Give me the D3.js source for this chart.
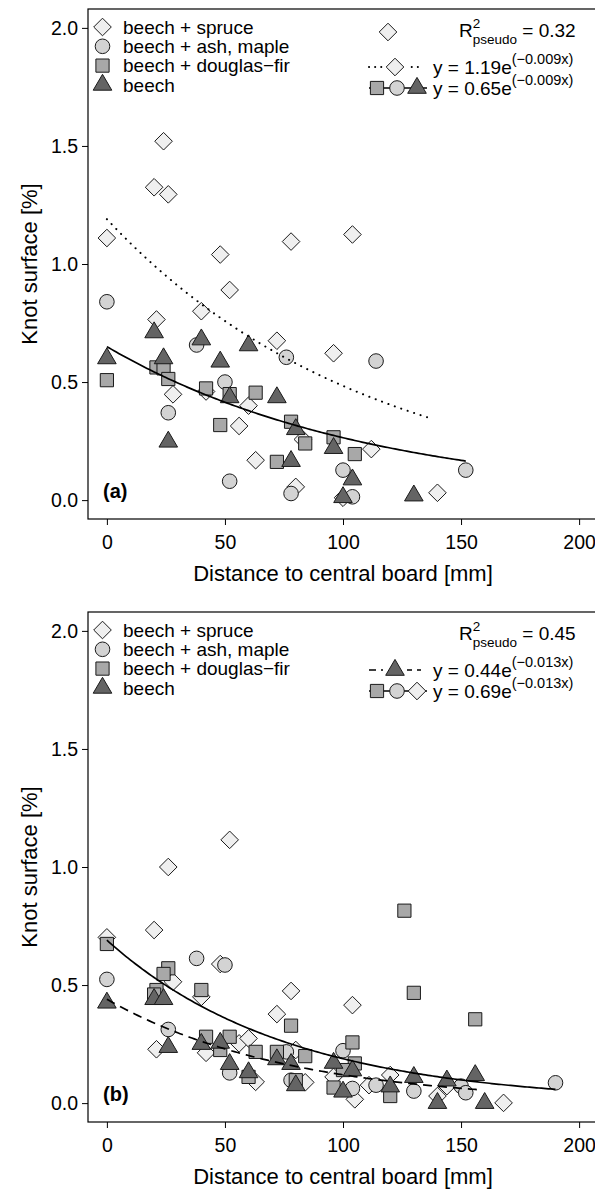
<!DOCTYPE html>
<html>
<head>
<meta charset="utf-8">
<script src="https://cdn.jsdelivr.net/npm/d3@7"></script>
<style>
  body { margin: 0; background: #fff; }
  svg text { font-family: "Liberation Sans", Arial, Helvetica, sans-serif; fill: #000; }
</style>
</head>
<body>
<svg id="chart" width="595" height="1191"></svg>
<script>
// Tick values and labels
const xTicks = [0, 50, 100, 150, 200];
const yTicks = [0, 0.5, 1, 1.5, 2];
const yTickLabels = ['0.0', '0.5', '1.0', '1.5', '2.0'];
const legendLabels = ['beech + spruce', 'beech + ash, maple', 'beech + douglas\u2212fir', 'beech'];

// Panel (a): [distance mm, knot surface %]
const spruceA = [[0,1.11],[20,1.325],[24,1.52],[26,1.295],[48,1.04],[78,1.095],[104,1.125],[52,0.89],
  [40,0.80],[21,0.765],[72,0.675],[96,0.622],[28,0.448],[42,0.46],[60,0.40],[56,0.314],[83,0.257],
  [112,0.216],[63,0.169],[80,0.056],[100,0.01],[140,0.031]];
const ashA = [[0,0.84],[38,0.657],[76,0.605],[114,0.589],[50,0.50],[26,0.37],[52,0.08],[78,0.028],
  [100,0.127],[104,0.014],[152,0.127]];
const douglasA = [[21,0.562],[24,0.558],[26,0.513],[0,0.508],[42,0.473],[52,0.449],[63,0.455],[48,0.318],
  [78,0.332],[84,0.24],[96,0.266],[105,0.195],[72,0.162]];
const beechA = [[20,0.71],[40,0.68],[60,0.655],[0,0.60],[24,0.60],[48,0.586],[52,0.435],[72,0.435],
  [80,0.30],[26,0.247],[78,0.165],[96,0.22],[104,0.087],[100,0.012],[130,0.019]];

// Panel (b)
const spruceB = [[26,1.0],[52,1.115],[20,0.733],[0,0.702],[48,0.589],[28,0.514],[40,0.45],[78,0.475],
  [72,0.377],[21,0.228],[42,0.213],[56,0.253],[60,0.274],[63,0.09],[80,0.225],[84,0.088],[96,0.111],
  [104,0.415],[105,0.016],[111,0.076],[120,0.119],[144,0.072],[140,0.03],[168,0.001]];
const ashB = [[0,0.524],[38,0.613],[50,0.585],[26,0.312],[52,0.128],[76,0.217],[78,0.097],[100,0.222],
  [104,0.062],[114,0.076],[130,0.051],[150,0.072],[152,0.044],[190,0.086]];
const douglasB = [[0,0.674],[26,0.571],[24,0.547],[40,0.479],[21,0.479],[20,0.46],[78,0.328],[42,0.281],
  [48,0.225],[52,0.281],[63,0.217],[60,0.111],[72,0.217],[84,0.199],[80,0.097],[96,0.066],[104,0.257],
  [105,0.168],[100,0.14],[120,0.03],[126,0.815],[130,0.467],[156,0.355]];
const beechB = [[0,0.425],[20,0.44],[24,0.44],[26,0.237],[40,0.25],[48,0.255],[52,0.165],[60,0.13],
  [72,0.185],[78,0.165],[80,0.075],[96,0.17],[104,0.138],[100,0.048],[120,0.07],[130,0.11],[144,0.095],
  [140,0.0],[156,0.118],[160,0.0]];

// Fitted models y = a * exp(b x) over [x0, x1]
const fitA1 = { a: 1.19, b: -0.009, x0: 0, x1: 138 };
const fitA2 = { a: 0.65, b: -0.009, x0: 0, x1: 152 };
const fitB1 = { a: 0.44, b: -0.013, x0: 0, x1: 157 };
const fitB2 = { a: 0.69, b: -0.013, x0: 0, x1: 190 };
const r2A = '0.32';
const r2B = '0.45';

const svg = d3.select('#chart');

// marker shapes (pch 21..24 look)
const styles = {
  diamond: { fill: '#efefef' },
  circle: { fill: '#d3d3d3' },
  square: { fill: '#a8a8a8' },
  triangle: { fill: '#646464' }
};
function shapePath(kind) {
  if (kind === 'diamond') { const h = 8.8; return `M0,${-h}L${h},0L0,${h}L${-h},0Z`; }
  if (kind === 'square') { const s = 6.6; return `M${-s},${-s}H${s}V${s}H${-s}Z`; }
  if (kind === 'triangle') { const w = 9.3, t = 10.6, b = 5.3; return `M0,${-t}L${w},${b}L${-w},${b}Z`; }
  return d3.symbol(d3.symbolCircle, Math.PI * 7.3 * 7.3)();
}
function marker(g, kind, x, y) {
  g.append('path')
    .attr('d', shapePath(kind))
    .attr('transform', `translate(${x},${y})`)
    .attr('fill', styles[kind].fill)
    .attr('stroke', '#1a1a1a')
    .attr('stroke-width', 1);
}

function drawPanel(p) {
  const g = svg.append('g').attr('transform', `translate(0,${p.top})`);
  const x = d3.scaleLinear().domain([-8, 208]).range([88, 598]);
  const y = d3.scaleLinear().domain([-0.08, 2.08]).range([519, 9]);

  // plot box
  g.append('rect')
    .attr('x', x(-8)).attr('y', y(2.08))
    .attr('width', x(208) - x(-8)).attr('height', y(-0.08) - y(2.08))
    .attr('fill', 'none').attr('stroke', '#000').attr('stroke-width', 1.2);

  // axes
  const xAxis = g.append('g')
    .attr('transform', `translate(0,${y(-0.08)})`)
    .call(d3.axisBottom(x).tickValues(xTicks).tickSize(6).tickPadding(10));
  xAxis.select('.domain').remove();
  xAxis.selectAll('text').style('font-size', '19.5px');

  const yAxis = g.append('g')
    .attr('transform', `translate(${x(-8)},0)`)
    .call(d3.axisLeft(y).tickValues(yTicks).tickSize(6).tickPadding(4)
      .tickFormat((d, i) => yTickLabels[i]));
  yAxis.select('.domain').remove();
  yAxis.selectAll('text').style('font-size', '19.5px');
  g.selectAll('.tick line').attr('stroke', '#000');

  // axis titles
  g.append('text')
    .attr('x', (x(-8) + x(208)) / 2).attr('y', 581)
    .attr('text-anchor', 'middle').style('font-size', '22px')
    .text('Distance to central board [mm]');
  g.append('text')
    .attr('transform', `translate(37,${(y(-0.08) + y(2.08)) / 2}) rotate(-90)`)
    .attr('text-anchor', 'middle').style('font-size', '22px')
    .text('Knot surface [%]');

  // points
  const pts = g.append('g');
  p.series.forEach(s => {
    s.data.forEach(d => marker(pts, s.kind, x(d[0]), y(d[1])));
  });

  // fitted curves
  const line = d3.line().x(d => x(d[0])).y(d => y(d[1]));
  p.fits.forEach(f => {
    const xs = d3.range(f.fit.x0, f.fit.x1 + 0.5, 1);
    g.append('path')
      .attr('d', line(xs.map(v => [v, f.fit.a * Math.exp(f.fit.b * v)])))
      .attr('fill', 'none').attr('stroke', '#000')
      .attr('stroke-width', f.dash === 'dot' ? 2 : 1.7)
      .attr('stroke-linecap', f.dash === 'dot' ? 'round' : 'butt')
      .attr('stroke-dasharray', f.dash === 'dot' ? '0.1,6.7' : f.dash === 'dash' ? '9,6' : null);
  });

  // panel label
  g.append('text').attr('x', 103).attr('y', 498)
    .style('font-size', '20px').style('font-weight', 'bold').text(p.label);

  // left legend
  const kinds = ['diamond', 'circle', 'square', 'triangle'];
  legendLabels.forEach((lab, i) => {
    const ly = 27 + i * 19.3;
    marker(g, kinds[i], 102.5, ly);
    g.append('text').attr('x', 123).attr('y', ly).attr('dy', '0.35em')
      .style('font-size', '19px').text(lab);
  });

  // right legend: R2
  const r2 = g.append('text').attr('x', 459).attr('y', 37).style('font-size', '19px');
  r2.append('tspan').text('R');
  r2.append('tspan').attr('dy', -9).style('font-size', '13.5px').text('2');
  r2.append('tspan').attr('dx', -7.5).attr('dy', 16).style('font-size', '13.5px').text('pseudo');
  r2.append('tspan').attr('dy', -7).text(' = ' + p.r2);
  if (p.loneDiamond) marker(g, 'diamond', 388, 32);

  // right legend: equations
  p.fits.forEach((f, i) => {
    const ry = p.rowY[i];
    const single = f.keys.length === 1;
    g.append('line').attr('x1', 369).attr('x2', single ? 421 : 427).attr('y1', ry).attr('y2', ry)
      .attr('stroke', '#000').attr('stroke-width', f.dash === 'dot' ? 2 : 1.3)
      .attr('stroke-linecap', f.dash === 'dot' ? 'round' : 'butt')
      .attr('stroke-dasharray', f.dash === 'dot' ? '0.1,6' : f.dash === 'dash' ? '7,5' : null);
    if (single) {
      g.append('rect').attr('x', 383).attr('y', ry - 10).attr('width', 24).attr('height', 20).attr('fill', '#fff');
      marker(g, f.keys[0], 395, ry);
    } else {
      f.keys.forEach((k, j) => marker(g, k, 377 + j * 20, ry));
    }
    const t = g.append('text').attr('x', 433).attr('y', ry + 7).style('font-size', '19px');
    t.append('tspan').text(`y = ${f.fit.a.toFixed(2)}e`);
    t.append('tspan').attr('dy', -10).style('font-size', '14.5px')
      .text(`(\u2212${Math.abs(f.fit.b)}x)`);
  });
}

drawPanel({
  top: 0, label: '(a)', r2: r2A, loneDiamond: true, rowY: [67, 88],
  series: [
    { kind: 'diamond', data: spruceA },
    { kind: 'circle', data: ashA },
    { kind: 'square', data: douglasA },
    { kind: 'triangle', data: beechA }
  ],
  fits: [
    { fit: fitA1, dash: 'dot', keys: ['diamond'] },
    { fit: fitA2, dash: 'solid', keys: ['square', 'circle', 'triangle'] }
  ]
});

drawPanel({
  top: 603, label: '(b)', r2: r2B, loneDiamond: false, rowY: [67, 88],
  series: [
    { kind: 'diamond', data: spruceB },
    { kind: 'circle', data: ashB },
    { kind: 'square', data: douglasB },
    { kind: 'triangle', data: beechB }
  ],
  fits: [
    { fit: fitB1, dash: 'dash', keys: ['triangle'] },
    { fit: fitB2, dash: 'solid', keys: ['square', 'circle', 'diamond'] }
  ]
});
</script>
</body>
</html>
